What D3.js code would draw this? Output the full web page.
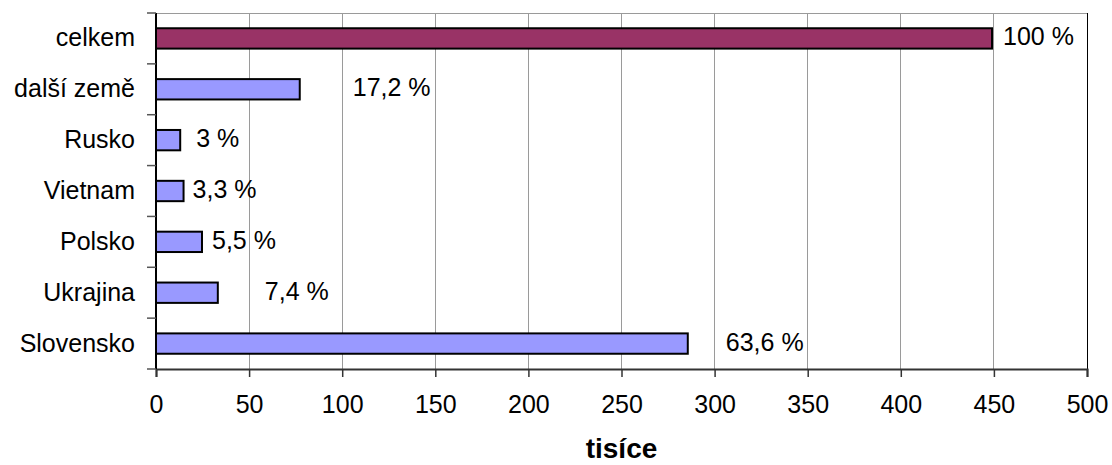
<!DOCTYPE html>
<html><head><meta charset="utf-8">
<script src="https://cdn.jsdelivr.net/npm/d3@7"></script>
<style>
html,body{margin:0;padding:0;background:#fff;}
svg{display:block;font-family:"Liberation Sans",Arial,sans-serif;}
</style></head>
<body>
<svg id="chart" width="1112" height="465"></svg>
<script>
const categories = ["celkem","další země","Rusko","Vietnam","Polsko","Ukrajina","Slovensko"];
const values = [449, 77.2, 13, 14.8, 24.7, 33.2, 285.6];
const valueLabels = ["100 %","17,2 %","3 %","3,3 %","5,5 %","7,4 %","63,6 %"];
const xTicks = [0,50,100,150,200,250,300,350,400,450,500];
const axisTitle = "tisíce";
// layout: gap in px between bar end and data label (as placed in the original)
const labelGap = [11, 53, 16, 9, 10, 47, 38];

const svg = d3.select("#chart");
const m = {left:156, right:1087, top:13, bottom:369};
const fs = 25;

const x = d3.scaleLinear().domain([0,500]).range([m.left, m.right]);
const y = d3.scaleBand().domain(categories).range([m.top, m.bottom]).paddingInner(0.6).paddingOuter(0.3);

// grid lines
svg.append("g").selectAll("line").data(xTicks.filter(d=>d>0)).join("line")
  .attr("x1", d=>x(d)).attr("x2", d=>x(d)).attr("y1", m.top).attr("y2", m.bottom)
  .attr("stroke", d=> d===500 ? "#000" : "#9a9a9a").attr("stroke-width", 1)
  .attr("shape-rendering","crispEdges");
// top border
svg.append("line").attr("x1", m.left).attr("x2", m.right).attr("y1", m.top).attr("y2", m.top)
  .attr("stroke","#9a9a9a").attr("shape-rendering","crispEdges");

// bars
svg.append("g").selectAll("rect").data(categories).join("rect")
  .attr("x", x(0))
  .attr("y", d=>y(d))
  .attr("width", (d,i)=>x(values[i]) - x(0))
  .attr("height", y.bandwidth())
  .attr("fill", d=> d==="celkem" ? "#993366" : "#9999FF")
  .attr("stroke", "#000").attr("stroke-width", 2);

// x axis
const xAxis = d3.axisBottom(x).tickValues(xTicks).tickSize(8).tickPadding(18).tickFormat(d3.format("d"));
const gx = svg.append("g").attr("transform", `translate(0,${m.bottom})`).call(xAxis);
gx.select(".domain").attr("stroke","#333").attr("stroke-width",2);
gx.selectAll(".tick line").attr("stroke","#333").attr("stroke-width",1.5);
gx.selectAll("text").attr("font-size", fs).attr("fill","#000").attr("font-family","Liberation Sans, Arial, sans-serif");

// y axis (ticks at band boundaries)
const yLine = d3.scaleLinear().domain([0, categories.length]).range([m.top, m.bottom]);
svg.append("line").attr("x1", m.left).attr("x2", m.left).attr("y1", m.top).attr("y2", m.bottom)
  .attr("stroke","#000").attr("stroke-width",2);
svg.append("g").selectAll("line").data(d3.range(categories.length+1)).join("line")
  .attr("x1", m.left-9).attr("x2", m.left).attr("y1", d=>yLine(d)).attr("y2", d=>yLine(d))
  .attr("stroke","#555").attr("stroke-width",1.5);
svg.append("g").selectAll("text").data(categories).join("text")
  .attr("x", m.left - 21)
  .attr("y", d=> y(d) + y.bandwidth()/2)
  .attr("dy","0.32em")
  .attr("text-anchor","end")
  .attr("font-size", fs)
  .text(d=>d);

// data labels
svg.append("g").selectAll("text").data(categories).join("text")
  .attr("x", (d,i)=> x(values[i]) + labelGap[i])
  .attr("y", d=> y(d) + y.bandwidth()/2)
  .attr("dy","0.28em")
  .attr("font-size", fs)
  .text((d,i)=>valueLabels[i]);

// axis title
svg.append("text")
  .attr("x", (m.left+m.right)/2)
  .attr("y", 458)
  .attr("text-anchor","middle")
  .attr("font-size", 28)
  .attr("font-weight","bold")
  .text(axisTitle);
</script>
</body></html>
